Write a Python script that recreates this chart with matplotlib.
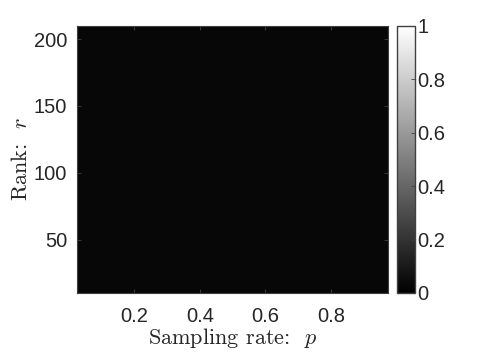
import matplotlib
matplotlib.use('Agg')
import matplotlib.pyplot as plt
import numpy as np

# sampling rates (columns) and ranks (rows)
p_vals = [0.05, 0.10, 0.15, 0.20, 0.25, 0.30, 0.35, 0.40, 0.45, 0.50,
          0.55, 0.60, 0.65, 0.70, 0.75, 0.80, 0.85, 0.90, 0.95]
r_vals = [20, 40, 60, 80, 100, 120, 140, 160, 180, 200]

# recovery success (read as uniformly near zero)
success = [
    [0.03, 0.03, 0.03, 0.03, 0.03, 0.03, 0.03, 0.03, 0.03, 0.03, 0.03, 0.03, 0.03, 0.03, 0.03, 0.03, 0.03, 0.03, 0.03],
    [0.03, 0.03, 0.03, 0.03, 0.03, 0.03, 0.03, 0.03, 0.03, 0.03, 0.03, 0.03, 0.03, 0.03, 0.03, 0.03, 0.03, 0.03, 0.03],
    [0.03, 0.03, 0.03, 0.03, 0.03, 0.03, 0.03, 0.03, 0.03, 0.03, 0.03, 0.03, 0.03, 0.03, 0.03, 0.03, 0.03, 0.03, 0.03],
    [0.03, 0.03, 0.03, 0.03, 0.03, 0.03, 0.03, 0.03, 0.03, 0.03, 0.03, 0.03, 0.03, 0.03, 0.03, 0.03, 0.03, 0.03, 0.03],
    [0.03, 0.03, 0.03, 0.03, 0.03, 0.03, 0.03, 0.03, 0.03, 0.03, 0.03, 0.03, 0.03, 0.03, 0.03, 0.03, 0.03, 0.03, 0.03],
    [0.03, 0.03, 0.03, 0.03, 0.03, 0.03, 0.03, 0.03, 0.03, 0.03, 0.03, 0.03, 0.03, 0.03, 0.03, 0.03, 0.03, 0.03, 0.03],
    [0.03, 0.03, 0.03, 0.03, 0.03, 0.03, 0.03, 0.03, 0.03, 0.03, 0.03, 0.03, 0.03, 0.03, 0.03, 0.03, 0.03, 0.03, 0.03],
    [0.03, 0.03, 0.03, 0.03, 0.03, 0.03, 0.03, 0.03, 0.03, 0.03, 0.03, 0.03, 0.03, 0.03, 0.03, 0.03, 0.03, 0.03, 0.03],
    [0.03, 0.03, 0.03, 0.03, 0.03, 0.03, 0.03, 0.03, 0.03, 0.03, 0.03, 0.03, 0.03, 0.03, 0.03, 0.03, 0.03, 0.03, 0.03],
    [0.03, 0.03, 0.03, 0.03, 0.03, 0.03, 0.03, 0.03, 0.03, 0.03, 0.03, 0.03, 0.03, 0.03, 0.03, 0.03, 0.03, 0.03, 0.03],
]
x_ticks = [0.2, 0.4, 0.6, 0.8]
y_ticks = [50, 100, 150, 200]
cb_ticks = [0, 0.2, 0.4, 0.6, 0.8, 1]

plt.rcParams['font.family'] = ['Liberation Sans', 'DejaVu Sans']
plt.rcParams['mathtext.fontset'] = 'cm'
plt.rcParams['axes.formatter.use_mathtext'] = False

fig = plt.figure(figsize=(4.78, 3.59), dpi=100)
ax = fig.add_axes([0.161, 0.184, 0.651, 0.744])
cax = fig.add_axes([0.830, 0.184, 0.038, 0.744])

Z = np.array(success)
p = np.array(p_vals)
r = np.array(r_vals)
dp = (p[1] - p[0]) / 2
dr = (r[1] - r[0]) / 2
im = ax.imshow(Z, cmap='gray', vmin=0, vmax=1, origin='lower', aspect='auto',
               interpolation='nearest',
               extent=[p[0] - dp, p[-1] + dp, r[0] - dr, r[-1] + dr])

ax.set_xticks(x_ticks)
ax.set_xticklabels([str(t) for t in x_ticks])
ax.set_yticks(y_ticks)
ax.tick_params(direction='in', length=3, width=0.6, color='#404040',
               top=True, right=True, labelsize=14.5, labelcolor='#262626')
ax.tick_params(axis='x', pad=10)
ax.tick_params(axis='y', pad=7)
for s in ax.spines.values():
    s.set_color('#404040')
    s.set_linewidth(0.8)

ax.set_xlabel('Sampling rate:  $p$', fontsize=16, color='#262626', labelpad=0,
              fontfamily='cmr10')
ax.set_ylabel('Rank:  $r$', fontsize=16, color='#262626', labelpad=2,
              fontfamily='cmr10')

cb = fig.colorbar(im, cax=cax)
cb.set_ticks(cb_ticks)
cb.set_ticklabels(['0', '0.2', '0.4', '0.6', '0.8', '1'])
cax.tick_params(direction='in', length=3, width=0.6, color='#404040',
                labelsize=14.5, labelcolor='#262626', pad=2)
cb.outline.set_edgecolor('#404040')
cb.outline.set_linewidth(1.0)

fig.savefig('out.png', dpi=100)
